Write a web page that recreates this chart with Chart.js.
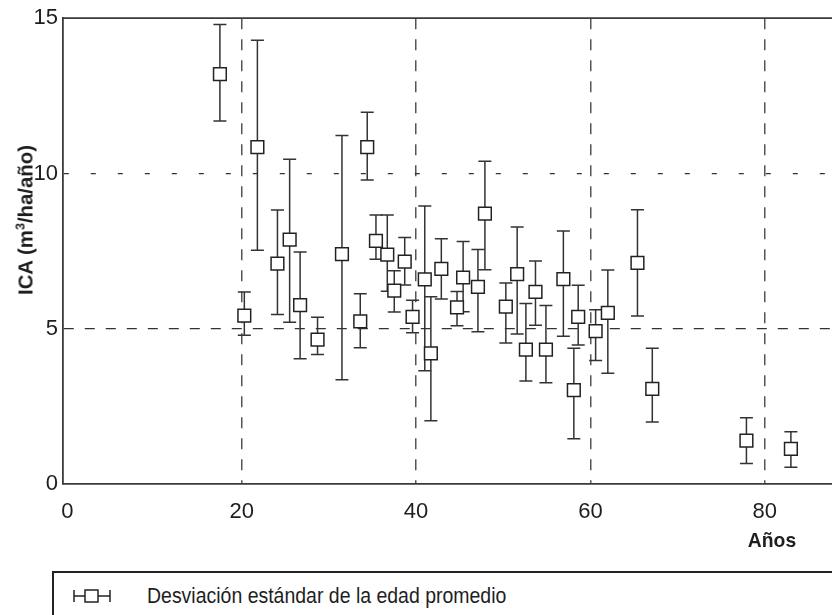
<!DOCTYPE html>
<html>
<head>
<meta charset="utf-8">
<script src="https://cdn.jsdelivr.net/npm/chart.js@4.4.1/dist/chart.umd.min.js"></script>
<style>
  body { margin:0; background:#fff; overflow:hidden; width:832px; height:615px; position:relative; }
  #wrap { position:absolute; left:0; top:0; width:906px; height:560px; }
  .narrow { font-family:'Liberation Sans Narrow','Arial Narrow','Liberation Sans',sans-serif; color:#1e1e1e; }
  #ytitle { position:absolute; left:25px; top:220px; transform:translate(-50%,-50%) rotate(-90deg) scaleX(0.97);
            white-space:nowrap; font-weight:bold; font-size:21px; }
  #ytitle sup { font-size:13px; }
  #xtitle { position:absolute; left:772px; top:540px; transform:translate(-50%,-50%) scaleX(0.92);
            font-weight:bold; font-size:21px; }
  .legend { position:absolute; left:52px; top:571px; width:900px; height:100px;
            border:2px solid #222; }
  .legend svg { position:absolute; left:19px; top:15px; }
  .legend span { position:absolute; left:93px; top:10px; font-size:22px; white-space:nowrap;
                 transform:scaleX(0.885); transform-origin:left center; }
</style>
</head>
<body>
<div id="wrap"><canvas id="ica" width="906" height="560"></canvas></div>
<div id="ytitle" class="narrow">ICA (m<sup>3</sup>/ha/año)</div>
<div id="xtitle" class="narrow">Años</div>
<div class="legend narrow">
  <svg width="40" height="16" viewBox="0 0 40 16">
    <line x1="1" y1="2" x2="1" y2="14" stroke="#222" stroke-width="1.5"/>
    <line x1="1" y1="8" x2="37" y2="8" stroke="#222" stroke-width="1.5"/>
    <line x1="37" y1="2" x2="37" y2="14" stroke="#222" stroke-width="1.5"/>
    <rect x="12" y="2" width="13" height="12" fill="#fff" stroke="#222" stroke-width="1.5"/>
  </svg>
  <span>Desviación estándar de la edad promedio</span>
</div>
<script>
// edad promedio (años) y ICA medio con su desviación
const ages  = [17.5, 20.3, 21.8, 24.1, 25.5, 26.7, 28.7, 31.5, 33.6, 34.4, 35.4, 36.7, 37.5, 38.7, 39.6, 41.0, 41.7, 42.9,
               44.7, 45.4, 47.1, 47.9, 50.3, 51.6, 52.6, 53.7, 54.9, 56.9, 58.1, 58.6, 60.6, 62.0, 65.4, 67.1, 77.9, 83.0];
const means = [13.2, 5.42, 10.85, 7.1, 7.87, 5.76, 4.65, 7.4, 5.24, 10.85, 7.83, 7.39, 6.23, 7.16, 5.38, 6.59, 4.21, 6.93,
               5.69, 6.65, 6.35, 8.71, 5.71, 6.76, 4.33, 6.19, 4.33, 6.6, 3.02, 5.38, 4.92, 5.51, 7.12, 3.06, 1.4, 1.13];
const upper = [14.8, 6.18, 14.29, 8.82, 10.46, 7.47, 5.37, 11.22, 6.13, 11.97, 8.66, 8.66, 6.87, 7.94, 5.92, 8.95, 6.03, 7.9,
               6.2, 7.81, 7.55, 10.39, 6.47, 8.28, 5.81, 7.18, 5.75, 8.15, 4.37, 6.4, 5.61, 6.89, 8.83, 4.37, 2.13, 1.68];
const lower = [11.69, 4.79, 7.53, 5.46, 5.21, 4.03, 4.17, 3.36, 4.39, 9.79, 7.24, 6.21, 5.54, 6.41, 4.87, 3.65, 2.04, 5.96,
               5.1, 5.55, 4.9, 6.9, 4.54, 4.83, 3.32, 5.11, 3.26, 4.76, 1.46, 4.48, 3.98, 3.57, 5.41, 2.0, 0.66, 0.54];
const xTicks = [0, 20, 40, 60, 80];
const yTicks = [0, 5, 10, 15];
const xGrid = [20, 40, 60, 80];
const yGrid = [5, 10];

const tickFont = { family: "'Liberation Sans Narrow','Arial Narrow','Liberation Sans',sans-serif", size: 22 };

const errorBars = {
  id: 'errorBars',
  beforeDatasetsDraw(chart) {
    const ctx = chart.ctx, xs = chart.scales.x, ys = chart.scales.y;
    ctx.save();
    ctx.strokeStyle = '#333';
    ctx.lineWidth = 1.5;
    ages.forEach((a, i) => {
      const x = xs.getPixelForValue(a);
      const t = ys.getPixelForValue(upper[i]);
      const b = ys.getPixelForValue(lower[i]);
      ctx.beginPath();
      ctx.moveTo(x, t); ctx.lineTo(x, b);
      ctx.moveTo(x - 6.5, t); ctx.lineTo(x + 6.5, t);
      ctx.moveTo(x - 6.5, b); ctx.lineTo(x + 6.5, b);
      ctx.stroke();
    });
    ctx.restore();
  },
  afterDraw(chart) {
    // marco superior
    const ctx = chart.ctx, a = chart.chartArea;
    ctx.save();
    ctx.strokeStyle = '#3a3a3a';
    ctx.lineWidth = 1.8;
    ctx.beginPath();
    ctx.moveTo(a.left, a.top); ctx.lineTo(a.right, a.top);
    ctx.stroke();
    ctx.restore();
  }
};

new Chart(document.getElementById('ica'), {
  type: 'scatter',
  data: {
    datasets: [{
      label: 'Desviación estándar de la edad promedio',
      data: ages.map((a, i) => ({ x: a, y: means[i] })),
      pointStyle: 'rect',
      radius: 9,
      hoverRadius: 9,
      backgroundColor: '#fff',
      borderColor: '#222',
      borderWidth: 1.5
    }]
  },
  options: {
    responsive: false,
    animation: false,
    events: [],
    layout: { padding: { left: 0, top: 9, right: 3, bottom: 0 } },
    plugins: { legend: { display: false }, tooltip: { enabled: false } },
    scales: {
      x: {
        type: 'linear',
        min: -0.5,
        max: 95,
        afterBuildTicks: s => { s.ticks = xTicks.map(v => ({ value: v })); },
        afterFit: s => { s.height = 76; },
        grid: {
          drawTicks: false,
          lineWidth: 1.5,
          color: c => xGrid.includes(c.tick && c.tick.value) ? '#555' : 'rgba(0,0,0,0)'
        },
        border: { display: true, color: '#3a3a3a', width: 1.8, dash: [11, 10] },
        ticks: { color: '#1e1e1e', font: tickFont, padding: 15, maxRotation: 0 }
      },
      y: {
        type: 'linear',
        min: 0,
        max: 15,
        afterBuildTicks: s => { s.ticks = yTicks.map(v => ({ value: v })); },
        afterFit: s => { s.width = 63; },
        grid: {
          drawTicks: false,
          lineWidth: 1.3,
          color: c => yGrid.includes(c.tick && c.tick.value) ? '#333' : 'rgba(0,0,0,0)'
        },
        border: {
          display: true, color: '#3a3a3a', width: 1.8,
          dash: c => (c.tick && c.tick.value === 10) ? [5, 22] : [10, 11]
        },
        ticks: { color: '#1e1e1e', font: tickFont, padding: 5 }
      }
    }
  },
  plugins: [errorBars]
});
</script>
</body>
</html>
